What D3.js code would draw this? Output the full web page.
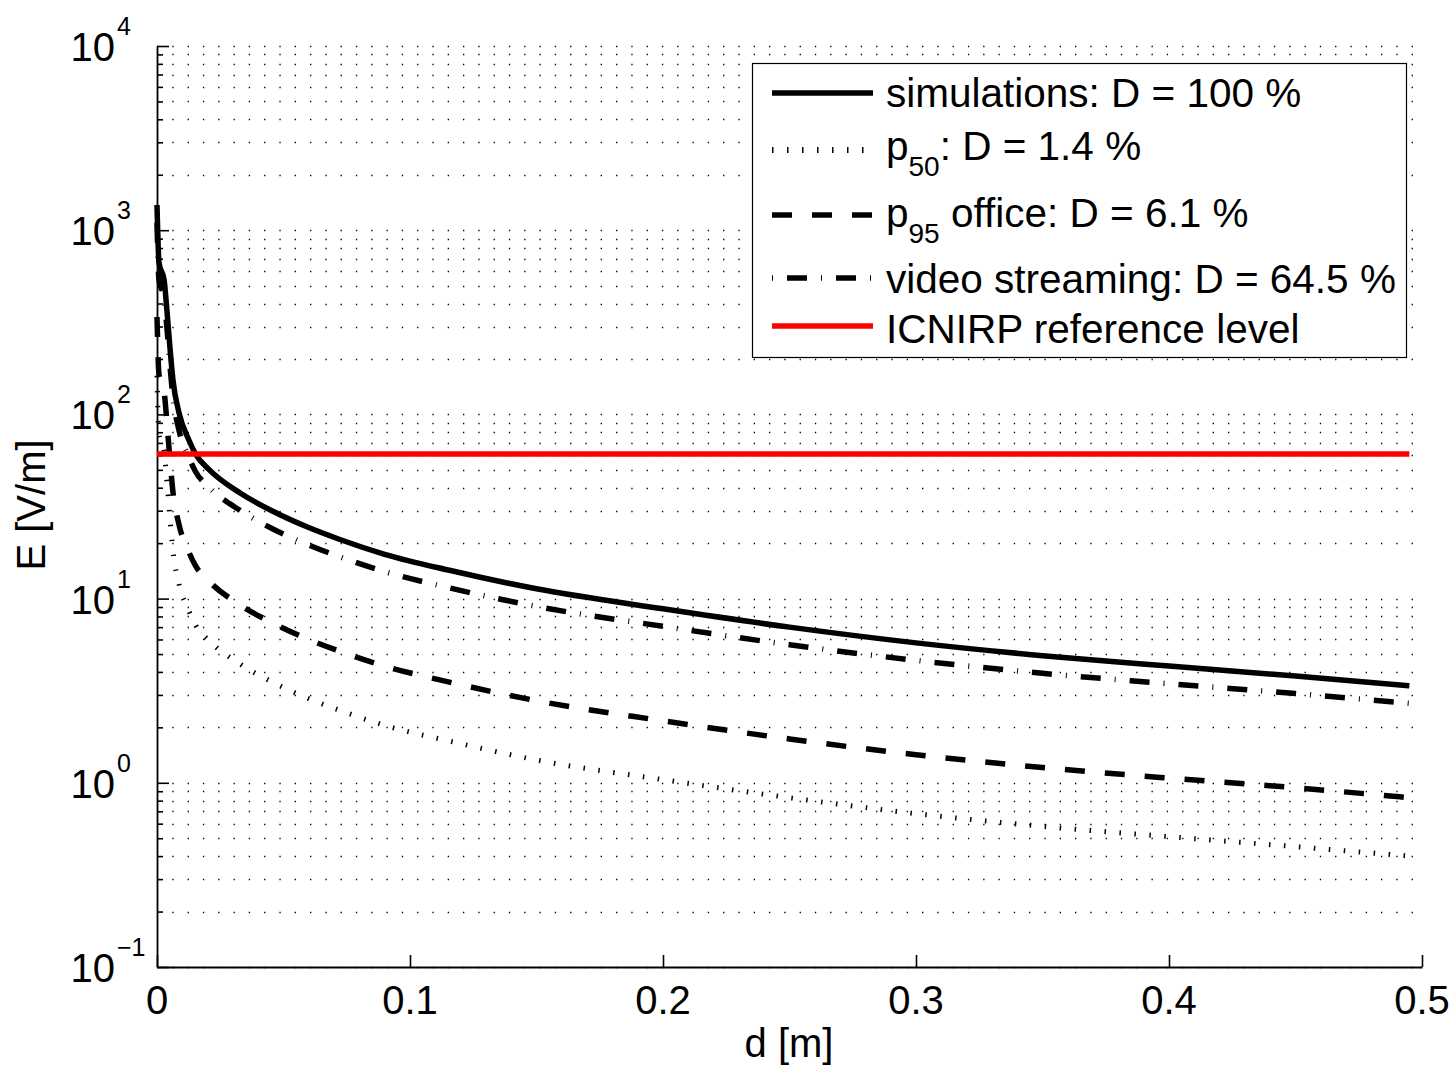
<!DOCTYPE html>
<html><head><meta charset="utf-8">
<script src="https://cdn.jsdelivr.net/npm/d3@7"></script>
<style>
body{margin:0;background:#fff}
svg{display:block}
text{font-family:"Liberation Sans",Arial,Helvetica,sans-serif;fill:#000}
</style>
</head><body>
<svg id="chart" width="1454" height="1072"></svg>
<script>
// ---- data ----
const distance        = [0, 0.0008, 0.0028, 0.004, 0.0051, 0.0063, 0.0087, 0.0126, 0.0152, 0.0206, 0.033, 0.046, 0.059, 0.072, 0.09, 0.116, 0.15, 0.2, 0.25, 0.3, 0.35, 0.4, 0.45, 0.495];
const simulationsE    = [1370, 664, 537, 356, 232, 154, 102, 72.6, 61, 50.1, 37.3, 29.7, 24.6, 21.0, 17.4, 14.2, 11.3, 8.8, 7.0, 5.75, 4.9, 4.3, 3.8, 3.36];
const p50E            = [162, 78, 63, 42.0, 27.4, 18.2, 12.0, 8.57, 7.2, 5.91, 4.40, 3.50, 2.90, 2.48, 2.05, 1.68, 1.33, 1.04, 0.83, 0.68, 0.58, 0.51, 0.45, 0.40];
const p95OfficeE      = [338, 164, 133, 87.9, 57.3, 38.0, 25.2, 17.9, 15.1, 12.4, 9.21, 7.34, 6.08, 5.19, 4.30, 3.51, 2.79, 2.17, 1.73, 1.42, 1.21, 1.06, 0.94, 0.83];
const videoStreamingE = [1100, 533, 431, 286, 186, 124, 81.9, 58.3, 49.0, 40.2, 30.0, 23.8, 19.8, 16.9, 14.0, 11.4, 9.07, 7.07, 5.62, 4.62, 3.93, 3.45, 3.05, 2.70];
const icnirpDistance  = [0, 0.495];
const icnirpE         = [61, 61];

const xTickValues = [0, 0.1, 0.2, 0.3, 0.4, 0.5];
const xTickLabels = ["0", "0.1", "0.2", "0.3", "0.4", "0.5"];
const yTickExponents = [-1, 0, 1, 2, 3, 4];
const yTickExpLabels = ["\u22121", "0", "1", "2", "3", "4"];

const legendMain = ["simulations: D = 100 %", "p", "p", "video streaming: D = 64.5 %", "ICNIRP reference level"];
const legendSub  = ["", "50", "95", "", ""];
const legendRest = ["", ": D = 1.4 %", " office: D = 6.1 %", "", ""];

const xLabel = "d [m]";
const yLabel = "E [V/m]";

// ---- chart ----
const svg = d3.select("#chart");
const x = d3.scaleLinear().domain([0, 0.5]).range([157, 1422]);
const y = d3.scaleLog().domain([0.1, 1e4]).range([967, 46]);

// grid (dotted, at every log tick)
const gridValues = d3.range(-1, 4).flatMap(k => d3.range(1, 10).map(m => m * Math.pow(10, k))).concat([1e4]);
svg.append("g").selectAll("line").data(gridValues).join("line")
  .attr("x1", x(0)).attr("x2", x(0.5))
  .attr("y1", d => Math.round(y(d)) + 0.5).attr("y2", d => Math.round(y(d)) + 0.5)
  .attr("stroke", "#000").attr("stroke-width", 1.3)
  .attr("stroke-dasharray", "1.3 14");

// axes
const minorValues = gridValues.filter(v => Math.abs(Math.log10(v) - Math.round(Math.log10(v))) > 1e-9);
const yMinor = svg.append("g").attr("transform", "translate(157,0)")
  .call(d3.axisRight(y).tickValues(minorValues).tickSize(6).tickSizeOuter(0).tickFormat(""));
yMinor.select(".domain").remove();
const yMajor = svg.append("g").attr("transform", "translate(157,0)")
  .call(d3.axisRight(y).tickValues(yTickExponents.map(e => Math.pow(10, e))).tickSize(12).tickSizeOuter(0).tickFormat(""));
const xAxis = svg.append("g").attr("transform", "translate(0,967)")
  .call(d3.axisTop(x).tickValues(xTickValues).tickSize(12).tickSizeOuter(0).tickFormat(""));
[yMinor, yMajor, xAxis].forEach(g => {
  g.selectAll("line").attr("stroke", "#000").attr("stroke-width", 1.6);
  g.selectAll(".domain").attr("stroke", "#000").attr("stroke-width", 1.8);
});

// tick labels
const yLab = svg.append("g");
yTickExponents.forEach((e, i) => {
  const yy = y(Math.pow(10, e));
  yLab.append("text").attr("x", 115).attr("y", yy + 15).attr("text-anchor", "end")
    .attr("font-size", 40).text("10");
  yLab.append("text").attr("x", 117).attr("y", yy - 11).attr("text-anchor", "start")
    .attr("font-size", 25).text(yTickExpLabels[i]);
});
svg.append("g").selectAll("text").data(xTickValues).join("text")
  .attr("x", d => x(d)).attr("y", 1014).attr("text-anchor", "middle")
  .attr("font-size", 40).text((d, i) => xTickLabels[i]);

// axis labels
svg.append("text").attr("x", 789).attr("y", 1057).attr("text-anchor", "middle")
  .attr("font-size", 40).text(xLabel);
svg.append("text").attr("transform", "translate(45,505) rotate(-90)").attr("text-anchor", "middle")
  .attr("font-size", 40).text(yLabel);

// curves
const line = d3.line().curve(d3.curveMonotoneX);
const series = [
  {values: simulationsE, dash: null, width: 5.5, color: "#000"},
  {values: p50E, dash: "1.5 13.5", width: 5, color: "#000"},
  {values: p95OfficeE, dash: "20 20", width: 5.5, color: "#000"},
  {values: videoStreamingE, dash: "20 14 1 14", width: 5.5, color: "#000"}
];
series.forEach(s => {
  svg.append("path")
    .attr("d", line(distance.map((d, i) => [x(d), y(s.values[i])])))
    .attr("fill", "none").attr("stroke", s.color).attr("stroke-width", s.width)
    .attr("stroke-dasharray", s.dash).attr("stroke-linejoin", "round");
});
svg.append("path")
  .attr("d", d3.line()(icnirpDistance.map((d, i) => [x(d), y(icnirpE[i])])))
  .attr("fill", "none").attr("stroke", "#ff0000").attr("stroke-width", 5.5);

// legend
const lg = svg.append("g");
lg.append("rect").attr("x", 752.5).attr("y", 63.5).attr("width", 654).attr("height", 294)
  .attr("fill", "#fff").attr("stroke", "#000").attr("stroke-width", 1.2);
const legendLineY = [93, 150, 215, 278, 326];
const legendTextY = [107, 160, 227, 293, 343];
const legendStyles = [
  {dash: null, width: 5.5, color: "#000"},
  {dash: "1.5 13.5", width: 6, color: "#000"},
  {dash: "20 20", width: 5.5, color: "#000"},
  {dash: "1 14 20 14", width: 5.5, color: "#000"},
  {dash: null, width: 5.5, color: "#ff0000"}
];
legendStyles.forEach((s, i) => {
  lg.append("line").attr("x1", 772).attr("x2", 873).attr("y1", legendLineY[i]).attr("y2", legendLineY[i])
    .attr("stroke", s.color).attr("stroke-width", s.width).attr("stroke-dasharray", s.dash);
  const t = lg.append("text").attr("x", 886).attr("y", legendTextY[i]).attr("font-size", 40.5);
  t.append("tspan").text(legendMain[i]);
  if (legendSub[i]) {
    t.append("tspan").attr("font-size", 28).attr("dy", 16).text(legendSub[i]);
    t.append("tspan").attr("dy", -16).text(legendRest[i]);
  }
});
</script>
</body></html>
